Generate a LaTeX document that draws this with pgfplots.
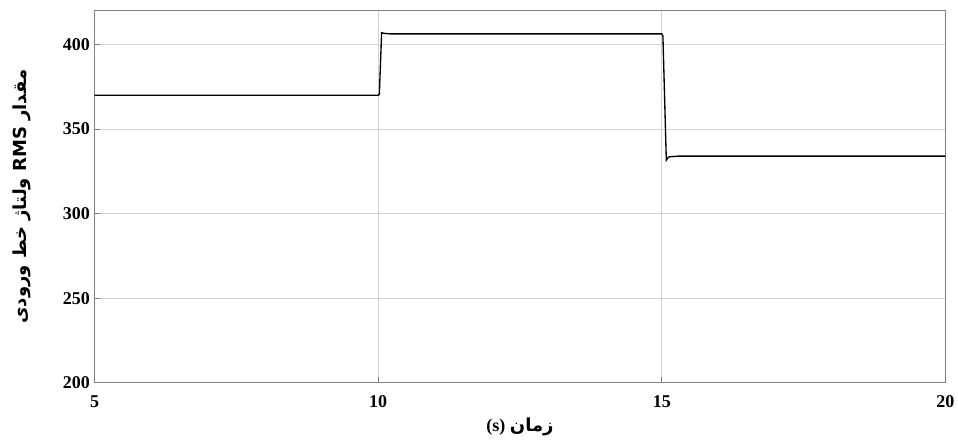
\documentclass[border=0pt]{standalone}
\usepackage{pgfplots}
\pgfplotsset{compat=1.18}
\usepackage{fontspec}
\setmainfont{Liberation Serif}
\newfontfamily\arabicfont[Script=Arabic]{DejaVu Sans}
\TeXXeTstate=1
\begin{document}
\begin{tikzpicture}
\begin{axis}[
  at={(0,0)}, anchor=south west,
  scale only axis,
  width=638pt, height=279pt,
  xmin=5, xmax=20, ymin=200, ymax=420,
  xtick={5,10,15,20}, ytick={200,250,300,350,400},
  grid=major,
  major grid style={color=black!18, line width=0.6pt},
  axis line style={color=black!50, line width=0.8pt},
  tick style={color=black!50, line width=0.6pt},
  tick align=inside,
  major tick length=4pt,
  xtick pos=bottom, ytick pos=left,
  /pgf/number format/assume math mode=true,
  ticklabel style={font=\fontsize{13.5}{15}\selectfont\bfseries},
  xticklabel style={yshift=-6pt},
  xlabel={\fontsize{13.5}{15}\selectfont\bfseries (s) {\arabicfont\beginR زمان\endR}},
  ylabel={\fontsize{13.5}{15}\selectfont\bfseries\arabicfont\beginR مقدار \beginL RMS\endL{} ولتاژ خط ورودی\endR},
  xlabel style={yshift=-1pt},
  ylabel style={yshift=17pt},
]
\addplot[black, line width=1pt] coordinates {
(5,370) (10.0,370) (10.02,370.5) (10.06,407) (10.1,406.6) (10.2,406.3) (15.0,406.3) (15.02,405) (15.08,331.6) (15.12,333.5) (15.3,334) (20,334)
};
\end{axis}
\pgfresetboundingbox
\path (-71pt,-46pt) rectangle (647.5pt,287pt);
\end{tikzpicture}
\end{document}
